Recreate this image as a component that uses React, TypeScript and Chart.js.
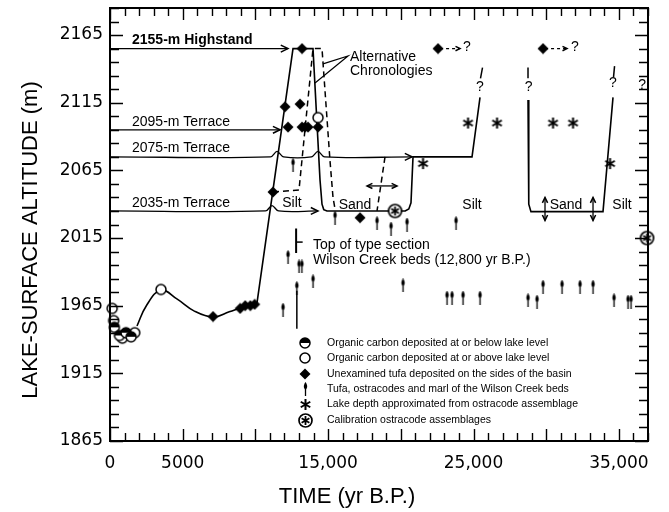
import React, { useEffect, useRef } from 'react';
import { Chart, registerables } from 'chart.js';

Chart.register(...registerables);

// ---------- axes ----------
const X_MIN = 0;
const X_MAX = 37000;
const Y_MIN = 1865;
const Y_MAX = 2185;
const X_TICK_VALUES = [0, 5000, 15000, 25000, 35000];
const X_TICK_LABELS = ['0', '5000', '15,000', '25,000', '35,000'];
const Y_TICK_VALUES = [1865, 1915, 1965, 2015, 2065, 2115, 2165];
const Y_TICK_LABELS = ['1865', '1915', '1965', '2015', '2065', '2115', '2165'];
const X_MINOR_STEP = 1000;
const X_MAJOR_STEP = 5000;
const Y_MINOR_STEP = 10;
const Y_MAJOR_STEP = 50;
const X_TITLE = 'TIME (yr B.P.)';
const Y_TITLE = 'LAKE-SURFACE ALTITUDE (m)';

type P = [number, number];

// ---------- point series (years B.P., altitude m) ----------
const organicBelow: P[] = [[300, 1949], [650, 1943], [1100, 1945], [1450, 1942]];
const organicAbove: P[] = [[150, 1963], [250, 1954], [850, 1941], [1700, 1945], [3507, 1977], [14305, 2104]];
const unexaminedTufa: P[] = [
  [7084, 1957], [8950, 1963], [9300, 1965], [9650, 1965], [9950, 1966],
  [11210, 2049], [12036, 2112], [13067, 2114], [12242, 2097], [13205, 2097],
  [13411, 2097], [13618, 2097], [14305, 2097], [13205, 2155], [17194, 2030],
  [22558, 2155], [29780, 2155],
];
const wilsonCreekBeds: P[] = [
  [11898, 1962], [12242, 2001], [12586, 2069], [12850, 1978], [13000, 1994], [13200, 1994],
  [13961, 1983], [15474, 2030], [18363, 2026], [19326, 2022], [20426, 2025], [20151, 1980],
  [23796, 2026], [23177, 1971], [23521, 1971], [24278, 1971], [25447, 1971],
  [28748, 1969], [29367, 1968], [29780, 1979], [31087, 1979], [32325, 1979], [33219, 1979],
  [34663, 1969], [35626, 1968], [35832, 1968],
];
const lakeDepth: P[] = [[21527, 2070], [24622, 2100], [26616, 2100], [30468, 2100], [31843, 2100], [34388, 2070]];
const calibration: P[] = [[19601, 2035], [36933, 2015]];

// ---------- lines ----------
const earlyCurve: P[] = [
  [1857, 1950], [2500, 1965], [3507, 1976.6], [4600, 1970], [5800, 1961],
  [7084, 1956.6], [8200, 1960.5], [9147, 1964], [10110, 1967],
];
const mainChronology: P[] = [
  [10110, 1967], [12586, 2155], [13961, 2155], [14443, 2058], [14580, 2040], [14700, 2036],
  [14924, 2035], [20300, 2035], [20550, 2036.5], [20700, 2041], [20839, 2075],
  [24897, 2075], [25447, 2119],
];
const lateBox: P[] = [[28748, 2117], [28800, 2040], [28950, 2034.5], [33906, 2034.5], [34594, 2119]];
const altChronologyA: P[] = [
  [11210, 2049], [12999, 2050.5], [13067, 2058], [13961, 2155], [14580, 2155],
  [15131, 2072], [15337, 2045], [15450, 2038],
];
const altChronologyB: P[] = [[18913, 2075], [18363, 2035]];
const highstand: P[] = [[0, 2155], [12240, 2155]];
const terrace2095: P[] = [[0, 2095], [11700, 2095]];
const terrace2075: P[] = [
  [0, 2075], [11036, 2075], [11486, 2079], [11936, 2075], [13855, 2075], [14305, 2079],
  [14755, 2075], [20770, 2075],
];
const terrace2035: P[] = [[0, 2035], [10692, 2035], [11142, 2039], [11592, 2035], [14305, 2035]];
const altPointer: P[] = [[14649, 2143.7], [16369, 2149.5], [14099, 2129.6]];
const typeSectionBar: P[] = [[12800, 2022], [12800, 2004]];
const typeSectionTick: P[] = [[12800, 2012], [13250, 2012]];
const typeSectionLine: P[] = [[12850, 1948], [12850, 1976]];
const tufaArrow1: P[] = [[22700, 2155], [24071, 2155]];
const tufaArrow2: P[] = [[29920, 2155], [31430, 2155]];
const sandRange: P[] = [[17675, 2053.5], [19739, 2053.5]];
const sandDepthA: P[] = [[29917, 2045], [29917, 2028]];
const sandDepthB: P[] = [[33219, 2045], [33219, 2028]];
const questionDashes: P[][] = [
  [[25480, 2133], [25620, 2141]],
  [[28748, 2133], [28748, 2141]],
  [[34630, 2134], [34700, 2142]],
];

// ---------- labels ----------
const ANNOTATIONS: { text: string; x: number; y: number; kind: string }[] = [
  { text: '2155-m Highstand', x: 1513, y: 2161, kind: 'bold' },
  { text: '2095-m Terrace', x: 1513, y: 2100.8, kind: 'left' },
  { text: '2075-m Terrace', x: 1513, y: 2081.6, kind: 'left' },
  { text: '2035-m Terrace', x: 1513, y: 2041, kind: 'left' },
  { text: 'Alternative', x: 16506, y: 2148.8, kind: 'left' },
  { text: 'Chronologies', x: 16506, y: 2138.5, kind: 'left' },
  { text: 'Silt', x: 12517, y: 2041, kind: 'center' },
  { text: 'Sand', x: 16850, y: 2039.4, kind: 'center' },
  { text: 'Silt', x: 24897, y: 2039.4, kind: 'center' },
  { text: 'Sand', x: 31362, y: 2039.4, kind: 'center' },
  { text: 'Silt', x: 35213, y: 2039.4, kind: 'center' },
  { text: 'Top of type section', x: 13961, y: 2009.9, kind: 'left' },
  { text: 'Wilson Creek beds (12,800 yr B.P.)', x: 13961, y: 1998.8, kind: 'left' },
  { text: '?', x: 24553, y: 2156, kind: 'center' },
  { text: '?', x: 31980, y: 2156, kind: 'center' },
  { text: '?', x: 25447, y: 2126.6, kind: 'center' },
  { text: '?', x: 28800, y: 2126.6, kind: 'center' },
  { text: '?', x: 34594, y: 2129.6, kind: 'center' },
  { text: '?', x: 36589, y: 2128, kind: 'center' },
];

const LEGEND_LABELS = [
  'Organic carbon deposited at or below lake level',
  'Organic carbon deposited at or above lake level',
  'Unexamined tufa deposited on the sides of the basin',
  'Tufa, ostracodes and marl of the Wilson Creek beds',
  'Lake depth approximated from ostracode assemblage',
  'Calibration ostracode assemblages',
];

const TEXT_FONT = '"Liberation Sans", Arial, sans-serif';
const TICK_FONT = '"DejaVu Sans", sans-serif';

function makeSymbol(w: number, h: number, draw: (g: CanvasRenderingContext2D) => void) {
  const c = document.createElement('canvas');
  c.width = w;
  c.height = h;
  const g = c.getContext('2d')!;
  g.strokeStyle = '#000';
  g.fillStyle = '#000';
  draw(g);
  return c;
}

function star(g: CanvasRenderingContext2D, cx: number, cy: number, r: number) {
  g.beginPath();
  [90, 30, 150].forEach((deg) => {
    const a = (deg * Math.PI) / 180;
    g.moveTo(cx - r * Math.cos(a), cy - r * Math.sin(a));
    g.lineTo(cx + r * Math.cos(a), cy + r * Math.sin(a));
  });
  g.stroke();
}

function buildSymbols() {
  const half = makeSymbol(14, 14, (g) => {
    g.beginPath(); g.arc(7, 7, 5, 0, Math.PI * 2); g.fillStyle = '#fff'; g.fill();
    g.fillStyle = '#000'; g.beginPath(); g.arc(7, 7, 5, Math.PI, Math.PI * 2); g.closePath(); g.fill();
    g.lineWidth = 1.5; g.beginPath(); g.arc(7, 7, 5, 0, Math.PI * 2); g.stroke();
  });
  const open = makeSymbol(14, 14, (g) => {
    g.beginPath(); g.arc(7, 7, 5, 0, Math.PI * 2); g.fillStyle = '#fff'; g.fill();
    g.lineWidth = 1.5; g.stroke();
  });
  const diamond = makeSymbol(12, 12, (g) => {
    g.beginPath(); g.moveTo(6, 0.5); g.lineTo(11.5, 6); g.lineTo(6, 11.5); g.lineTo(0.5, 6); g.closePath(); g.fill();
  });
  const tufa = makeSymbol(7, 14, (g) => {
    g.lineWidth = 1.3; g.beginPath(); g.moveTo(3.5, 5); g.lineTo(3.5, 14); g.stroke();
    g.beginPath(); g.moveTo(3.5, 0); g.bezierCurveTo(5.5, 3, 6, 5.5, 3.5, 8); g.bezierCurveTo(1, 5.5, 1.5, 3, 3.5, 0); g.fill();
  });
  const asterisk = makeSymbol(13, 13, (g) => { g.lineWidth = 2; star(g, 6.5, 6.5, 5.5); });
  const calib = makeSymbol(17, 17, (g) => {
    g.beginPath(); g.arc(8.5, 8.5, 6.5, 0, Math.PI * 2); g.fillStyle = '#fff'; g.fill();
    g.lineWidth = 1.7; g.stroke();
    g.lineWidth = 1.8; star(g, 8.5, 8.5, 4.5);
  });
  return { half, open, diamond, tufa, asterisk, calib };
}

const framePlugin = {
  id: 'frame',
  afterDraw(chart: any) {
    const { ctx, chartArea: a } = chart;
    const x = chart.scales.x;
    const y = chart.scales.y;
    ctx.save();
    ctx.strokeStyle = '#000';
    ctx.lineWidth = 1.4;
    ctx.beginPath();
    for (let v = X_MIN; v <= X_MAX; v += X_MINOR_STEP) {
      const px = Math.round(x.getPixelForValue(v)) + 0.5;
      const len = v % X_MAJOR_STEP === 0 ? 12 : 8;
      ctx.moveTo(px, a.bottom); ctx.lineTo(px, a.bottom - len);
      ctx.moveTo(px, a.top); ctx.lineTo(px, a.top + len);
    }
    for (let v = Y_MIN; v <= Y_MAX; v += Y_MINOR_STEP) {
      const py = Math.round(y.getPixelForValue(v)) + 0.5;
      const len = (v - Y_MIN) % Y_MAJOR_STEP === 0 ? 13 : 9;
      ctx.moveTo(a.left, py); ctx.lineTo(a.left + len, py);
      ctx.moveTo(a.right, py); ctx.lineTo(a.right - len, py);
    }
    ctx.stroke();
    ctx.lineWidth = 2;
    ctx.strokeRect(a.left, a.top, a.right - a.left, a.bottom - a.top);

    // axis titles
    ctx.fillStyle = '#000';
    ctx.font = `22px ${TEXT_FONT}`;
    ctx.textAlign = 'center';
    ctx.textBaseline = 'middle';
    ctx.fillText(X_TITLE, 347, 497);
    ctx.translate(31, 240);
    ctx.rotate(-Math.PI / 2);
    ctx.fillText(Y_TITLE, 0, 0);
    ctx.restore();
  },
};

const annotationPlugin = {
  id: 'annotations',
  afterDatasetsDraw(chart: any) {
    const { ctx } = chart;
    const x = chart.scales.x;
    const y = chart.scales.y;
    ctx.save();
    ctx.fillStyle = '#000';
    ctx.textBaseline = 'middle';
    ANNOTATIONS.forEach((an) => {
      ctx.font = an.kind === 'bold' ? `bold 14px ${TEXT_FONT}` : `14px ${TEXT_FONT}`;
      ctx.textAlign = an.kind === 'center' ? 'center' : 'left';
      ctx.fillText(an.text, x.getPixelForValue(an.x), y.getPixelForValue(an.y));
    });
    // arrowheads
    chart.data.datasets.forEach((ds: any, i: number) => {
      if (!ds.arrowEnd && !ds.arrowStart) return;
      const pts = chart.getDatasetMeta(i).data;
      const n = pts.length;
      const size = ds.arrowSize || 8;
      ctx.strokeStyle = '#000';
      ctx.lineWidth = 1.5;
      ctx.setLineDash([]);
      const head = (tip: any, from: any) => {
        const ang = Math.atan2(tip.y - from.y, tip.x - from.x);
        ctx.beginPath();
        ctx.moveTo(tip.x - size * Math.cos(ang - 0.45), tip.y - size * Math.sin(ang - 0.45));
        ctx.lineTo(tip.x, tip.y);
        ctx.lineTo(tip.x - size * Math.cos(ang + 0.45), tip.y - size * Math.sin(ang + 0.45));
        ctx.stroke();
      };
      if (ds.arrowEnd) head(pts[n - 1], pts[n - 2]);
      if (ds.arrowStart) head(pts[0], pts[1]);
    });
    // legend (inside the plot)
    const a = chart.chartArea;
    const legendItems = chart.data.datasets.filter((d: any) => d.inLegend);
    ctx.font = `10.5px ${TEXT_FONT}`;
    ctx.textAlign = 'left';
    legendItems.forEach((d: any, k: number) => {
      const cy = a.bottom - 98 + k * 15.4;
      const img = d.pointStyle as HTMLCanvasElement;
      ctx.drawImage(img, Math.round(305 - img.width / 2), Math.round(cy - img.height / 2));
      ctx.fillText(d.label, 327, cy);
    });
    ctx.restore();
  },
};

export default function App() {
  const ref = useRef<HTMLCanvasElement>(null);
  useEffect(() => {
    const s = buildSymbols();
    const pts = (arr: P[]) => arr.map(([x, y]) => ({ x, y }));
    const marker = (label: string, data: P[], style: HTMLCanvasElement) => ({
      label, data: pts(data), showLine: false, pointStyle: style, pointRadius: 6,
      pointHoverRadius: 6, inLegend: true, clip: false,
    });
    const line = (data: P[], extra: any = {}) => ({
      label: '', data: pts(data), showLine: true, pointRadius: 0, pointHoverRadius: 0,
      borderColor: '#000', borderWidth: 1.6, tension: 0, clip: false, fill: false, ...extra,
    });
    const dash = [6, 4];
    const datasets: any[] = [
      marker(LEGEND_LABELS[0], organicBelow, s.half),
      marker(LEGEND_LABELS[1], organicAbove, s.open),
      marker(LEGEND_LABELS[2], unexaminedTufa, s.diamond),
      marker(LEGEND_LABELS[3], wilsonCreekBeds, s.tufa),
      marker(LEGEND_LABELS[4], lakeDepth, s.asterisk),
      marker(LEGEND_LABELS[5], calibration, s.calib),
      line(earlyCurve, { tension: 0.4 }),
      line(mainChronology),
      line(lateBox),
      line(altChronologyA, { borderDash: dash, borderWidth: 1.5 }),
      line(altChronologyB, { borderDash: dash, borderWidth: 1.5 }),
      line(highstand, { arrowEnd: true, borderWidth: 1.3 }),
      line(terrace2095, { arrowEnd: true, borderWidth: 1.3 }),
      line(terrace2075, { arrowEnd: true, borderWidth: 1.3, tension: 0.35 }),
      line(terrace2035, { arrowEnd: true, borderWidth: 1.3, tension: 0.35 }),
      line(altPointer, { borderWidth: 1.2 }),
      line(typeSectionBar, { borderWidth: 2 }),
      line(typeSectionTick, { borderWidth: 1.5 }),
      line(typeSectionLine, { borderWidth: 1.5 }),
      line(tufaArrow1, { borderDash: [3, 3], arrowEnd: true, arrowSize: 5, borderWidth: 1.3 }),
      line(tufaArrow2, { borderDash: [3, 3], arrowEnd: true, arrowSize: 5, borderWidth: 1.3 }),
      line(sandRange, { arrowEnd: true, arrowStart: true, arrowSize: 6, borderWidth: 1.3 }),
      line(sandDepthA, { arrowEnd: true, arrowStart: true, arrowSize: 6, borderWidth: 1.3 }),
      line(sandDepthB, { arrowEnd: true, arrowStart: true, arrowSize: 6, borderWidth: 1.3 }),
      ...questionDashes.map((q) => line(q, { borderWidth: 1.5 })),
    ];

    const chart = new Chart(ref.current!, {
      type: 'scatter',
      data: { datasets },
      options: {
        animation: false,
        responsive: false,
        events: [],
        layout: { padding: { left: 0, right: 21, top: 8, bottom: 0 } },
        plugins: { legend: { display: false }, tooltip: { enabled: false } },
        scales: {
          x: {
            type: 'linear', min: X_MIN, max: X_MAX,
            afterBuildTicks: (sc: any) => { sc.ticks = X_TICK_VALUES.map((v) => ({ value: v })); },
            afterFit: (sc: any) => { sc.height = 71; sc.paddingLeft = 0; sc.paddingRight = 0; },
            ticks: {
              autoSkip: false, maxRotation: 0, color: '#000', padding: 12,
              font: { family: TICK_FONT, size: 17 },
              callback: (v: any) => X_TICK_LABELS[X_TICK_VALUES.indexOf(Number(v))] ?? '',
            },
            grid: { display: false, drawTicks: false },
            border: { display: false },
          },
          y: {
            type: 'linear', min: Y_MIN, max: Y_MAX,
            afterBuildTicks: (sc: any) => { sc.ticks = Y_TICK_VALUES.map((v) => ({ value: v })); },
            afterFit: (sc: any) => { sc.width = 110; sc.paddingTop = 0; sc.paddingBottom = 0; },
            ticks: {
              autoSkip: false, color: '#000', padding: 7,
              font: { family: TICK_FONT, size: 17 },
              callback: (v: any) => Y_TICK_LABELS[Y_TICK_VALUES.indexOf(Number(v))] ?? '',
            },
            grid: { display: false, drawTicks: false },
            border: { display: false },
          },
        },
      } as any,
      plugins: [framePlugin, annotationPlugin],
    });
    return () => chart.destroy();
  }, []);

  return (
    <div style={{ position: 'absolute', left: 0, top: 0, width: 669, height: 512, background: '#fff' }}>
      <canvas ref={ref} width={669} height={512} />
    </div>
  );
}
